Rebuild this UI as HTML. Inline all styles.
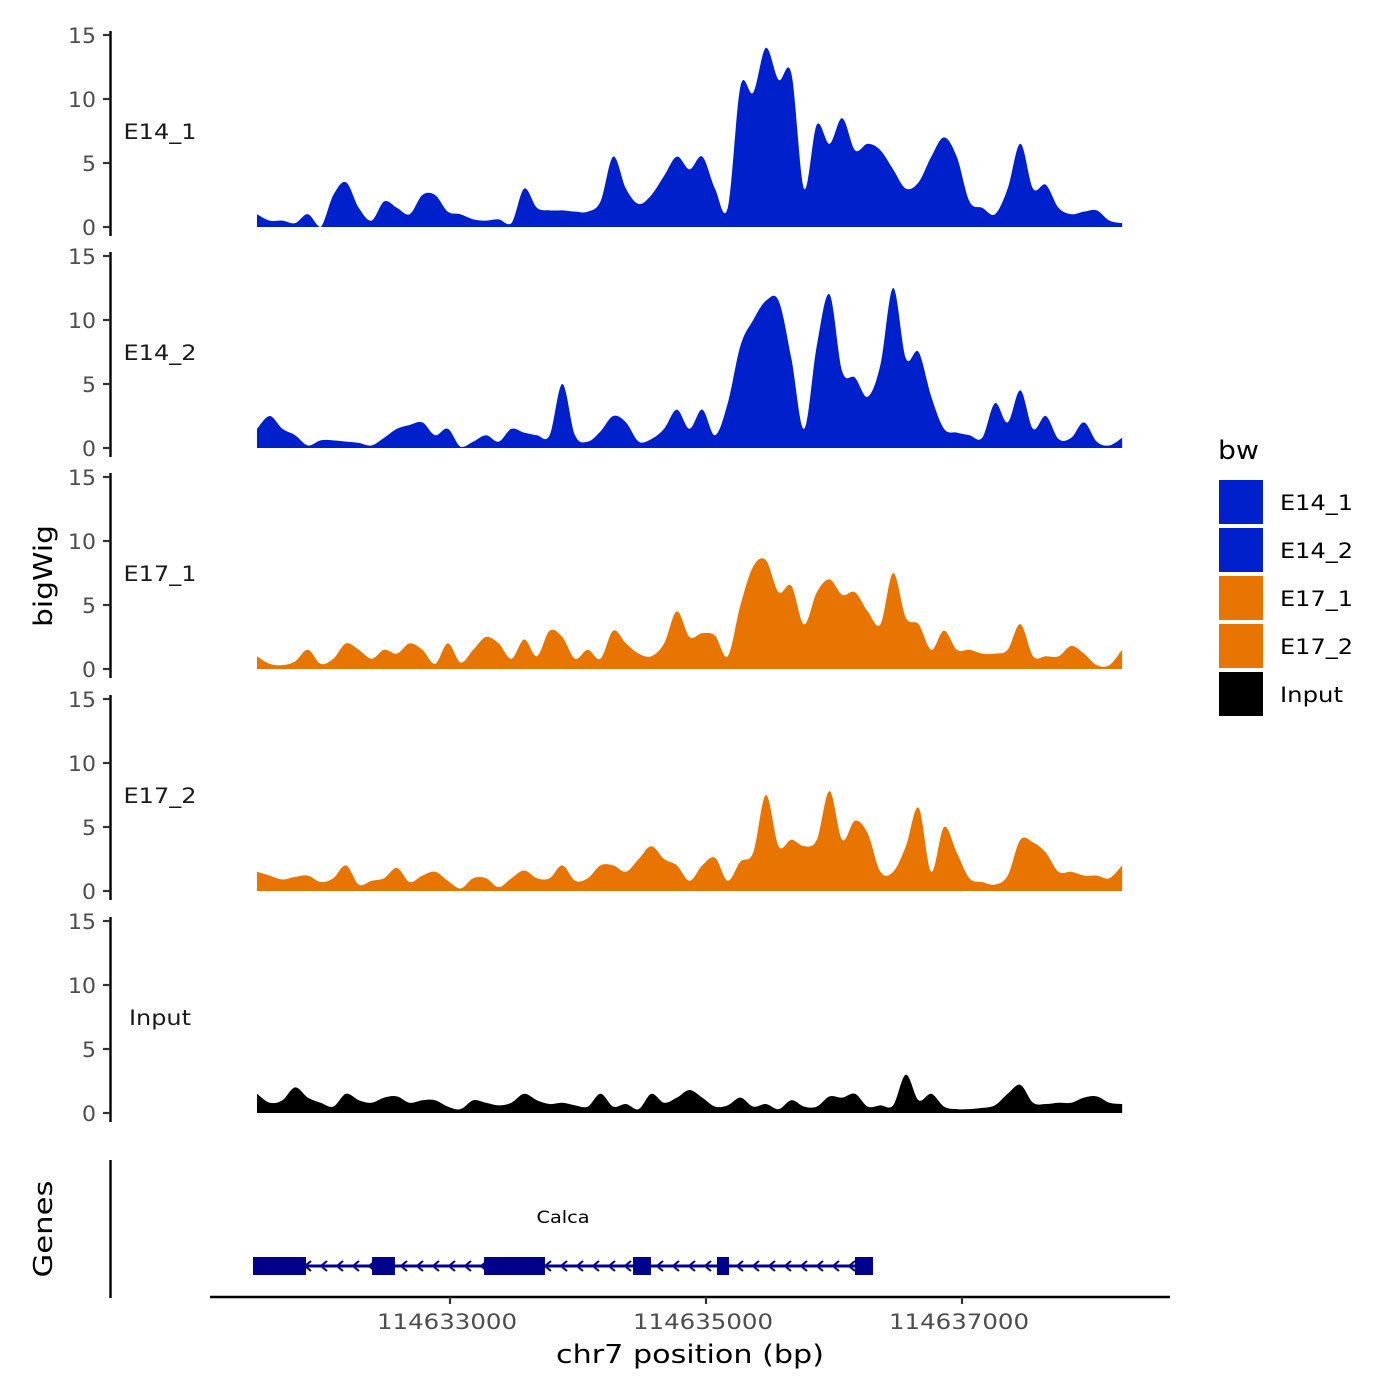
<!DOCTYPE html>
<html><head><meta charset="utf-8"><style>
body{margin:0;background:#fff;}
svg{display:block;font-family:"DejaVu Sans","Liberation Sans",sans-serif;}
</style></head><body>
<svg id="chart" width="1400" height="1400" viewBox="0 0 1400 1400"></svg>
<script>
const trackNames=["E14_1","E14_2","E17_1","E17_2","Input"];
const trackColors=["#0020CC","#0020CC","#E87502","#E87502","#000000"];
const yTicks=[0,5,10,15];
const xTickValues=[114633000,114635000,114637000];
const startBp=114631492, stepBp=99.4;
const e14_1=[1,0.5,0.5,0.3,1,0,2.5,3.5,1.5,0.5,2,1.5,1,2.5,2.5,1.2,1,0.6,0.5,0.6,0.3,3,1.5,1.3,1.3,1.2,1.2,2,5.5,3,1.8,2.5,4,5.5,4.5,5.5,3,1.5,11,10.5,14,11.5,12,3,8,6.5,8.5,6,6.5,6,4.5,3,3.5,5.5,7,5.5,2,1.5,1,3,6.5,3,3.3,1.5,1,1.2,1.3,0.5,0.3];
const e14_2=[1.5,2.5,1.5,1,0.2,0.6,0.6,0.5,0.4,0.2,0.8,1.5,1.8,2,1,1.5,0.1,0.5,1,0.5,1.5,1.2,1,1,5,1,0.5,1.3,2.5,2,0.5,0.7,1.5,3,1.5,3,1,3.5,8,10,11.5,11.5,7,1.5,8,12,6,5.5,4,6.5,12.5,7,7.5,4,1.5,1.2,1,0.8,3.5,2,4.5,1.5,2.5,0.7,0.8,2,0.5,0.2,0.8];
const e17_1=[1,0.4,0.3,0.6,1.5,0.4,0.8,2,1.5,0.8,1.5,1.2,2,1.5,0.4,2,0.5,1.5,2.5,2,0.8,2.3,1,3,2.5,0.8,1.5,0.8,3,2,1.2,1,2,4.5,2.5,2.8,2.6,1,5,8,8.5,6,6.5,3.5,6,7,5.8,6,4.5,3.5,7.5,4,3.5,1.5,3,1.5,1.5,1.2,1.2,1.5,3.5,1,1,1,1.8,1.2,0.3,0.3,1.5];
const e17_2=[1.5,1.2,0.9,1.1,1.2,0.7,1,2,0.5,0.8,1,1.8,0.7,1.2,1.5,0.8,0.2,1,1,0.3,1,1.6,1,1,2,0.8,1,2,2,1.5,2.5,3.5,2.5,2,0.8,2,2.6,0.8,2.3,3,7.5,3.5,4,3.5,4,7.8,4,5.5,4.5,1.5,1.5,3.5,6.5,1.5,5,3,1,0.7,0.5,1.2,4,3.8,3,1.5,1.5,1.2,1.2,1,2];
const input=[1.5,0.8,1,2,1.2,0.8,0.5,1.5,1,0.8,1.2,1.3,0.8,1,1,0.5,0.3,1,0.8,0.6,0.8,1.5,1,0.7,0.8,0.6,0.5,1.5,0.5,0.7,0.3,1.5,0.8,1.2,1.8,1.2,0.5,0.6,1.2,0.5,0.7,0.3,1,0.5,0.5,1.3,1.2,1.5,0.5,0.6,0.6,3,1,1.5,0.5,0.3,0.3,0.4,0.6,1.5,2.2,0.8,0.7,0.8,0.8,1.2,1.3,0.8,0.7];
const trackData=[e14_1,e14_2,e17_1,e17_2,input];
const exonStarts=[114631461,114632391,114633266,114634430,114635086,114636164];
const exonEnds=[114631875,114632570,114633742,114634570,114635180,114636305];
const geneStart=114631492, geneEnd=114636305;

const NS="http://www.w3.org/2000/svg";
const svg=document.getElementById('chart');
function mk(tag,attrs,parent){const e=document.createElementNS(NS,tag);for(const k in attrs)e.setAttribute(k,attrs[k]);(parent||svg).appendChild(e);return e;}
const xScale=bp=>450+(bp-114633000)*0.128;
const panelBase=[227,448,669,891,1113];
const yScale=(i,v)=>panelBase[i]-v*12.8;

trackNames.forEach((name,i)=>{
  const g=mk('g',{});
  
  
  const d=trackData[i];
  const pts=d.map((v,j)=>[xScale(startBp+j*stepBp),yScale(i,v)]);
  let p=`M${pts[0][0]},${panelBase[i]} L${pts[0][0]},${pts[0][1]}`;
  for(let j=0;j<pts.length-1;j++){
    const p0=pts[Math.max(0,j-1)],p1=pts[j],p2=pts[j+1],p3=pts[Math.min(pts.length-1,j+2)];
    let c1y=Math.min(panelBase[i],p1[1]+(p2[1]-p0[1])/6), c2y=Math.min(panelBase[i],p2[1]-(p3[1]-p1[1])/6);
    p+=` C${p1[0]+(p2[0]-p0[0])/6},${c1y} ${p2[0]-(p3[0]-p1[0])/6},${c2y} ${p2[0]},${p2[1]}`;
  }
  p+=` L${pts[pts.length-1][0]},${panelBase[i]} Z`;
  const area=mk('path',{d:p,fill:trackColors[i]},g);
  
  
  const ax=mk('line',{x1:110.5,x2:110.5,y1:yScale(i,15)-4,y2:panelBase[i]+9,stroke:'#000','stroke-width':2.4},g);
  
  
  yTicks.forEach(t=>{
    mk('line',{x1:103,x2:110,y1:yScale(i,t),y2:yScale(i,t),stroke:'#333','stroke-width':2.2},g);
    const tl=mk('text',{x:96,y:yScale(i,t)+8,'text-anchor':'end','font-size':21,fill:'#4d4d4d',textLength:String(t).length*14,lengthAdjust:'spacingAndGlyphs'},g);
    tl.textContent=t;
    
    
  });
  const lb=mk('text',{x:160,y:yScale(i,7.5)+8,'text-anchor':'middle','font-size':21,fill:'#1a1a1a',textLength:name==='Input'?62:73,lengthAdjust:'spacingAndGlyphs'},g);
  lb.textContent=name;
  
  
});

const yt=mk('text',{x:0,y:0,transform:'translate(52,576) rotate(-90)','text-anchor':'middle','font-size':26,fill:'#000',textLength:102,lengthAdjust:'spacingAndGlyphs'});
yt.textContent='bigWig';



// genes
const gg=mk('g',{});


mk('line',{x1:110.5,x2:110.5,y1:1160,y2:1298,stroke:'#000','stroke-width':2.4},gg);
const gt=mk('text',{x:0,y:0,transform:'translate(52,1229) rotate(-90)','text-anchor':'middle','font-size':26,fill:'#000',textLength:97,lengthAdjust:'spacingAndGlyphs'},gg);
gt.textContent='Genes';


mk('line',{x1:xScale(geneStart),x2:xScale(geneEnd),y1:1266,y2:1266,stroke:'#00008B','stroke-width':3},gg);
for(let x=xScale(geneStart)+50;x<xScale(geneEnd)-10;x+=16){
  mk('polyline',{points:`${x+4},1261 ${x-2},1266 ${x+4},1271`,fill:'none',stroke:'#00008B','stroke-width':2},gg);
}
exonStarts.forEach((s,k)=>{
  const r=mk('rect',{x:xScale(s),y:1257,width:xScale(exonEnds[k])-xScale(s),height:18,fill:'#00008B'},gg);
  
  
});
const gl=mk('text',{x:563,y:1223,'text-anchor':'middle','font-size':17,fill:'#000',textLength:53,lengthAdjust:'spacingAndGlyphs'},gg);
gl.textContent='Calca';



// x axis
const xa=mk('line',{x1:210,x2:1170,y1:1297,y2:1297,stroke:'#000','stroke-width':2.4});


xTickValues.forEach(v=>{
  mk('line',{x1:xScale(v),x2:xScale(v),y1:1297,y2:1304,stroke:'#333','stroke-width':2.2});
  const t=mk('text',{x:xScale(v)-3,y:1329,'text-anchor':'middle','font-size':21,fill:'#4d4d4d',textLength:140,lengthAdjust:'spacingAndGlyphs'});
  t.textContent=v;
  
  
});
const xt=mk('text',{x:690,y:1363,'text-anchor':'middle','font-size':26,fill:'#000',textLength:268,lengthAdjust:'spacingAndGlyphs'});
xt.textContent='chr7 position (bp)';



// legend
const lg=mk('g',{});


const lt=mk('text',{x:1218,y:459,'font-size':26,fill:'#000',textLength:41,lengthAdjust:'spacingAndGlyphs'},lg);
lt.textContent='bw';


trackNames.forEach((n,i)=>{
  const y=480+i*48;
  const r=mk('rect',{x:1219,y:y,width:44,height:44,fill:trackColors[i]},lg);
  
  
  const t=mk('text',{x:1280,y:y+30,'font-size':21,fill:'#000',textLength:n==='Input'?63:73,lengthAdjust:'spacingAndGlyphs'},lg);
  t.textContent=n;
  
  
});
</script>
</body></html>
